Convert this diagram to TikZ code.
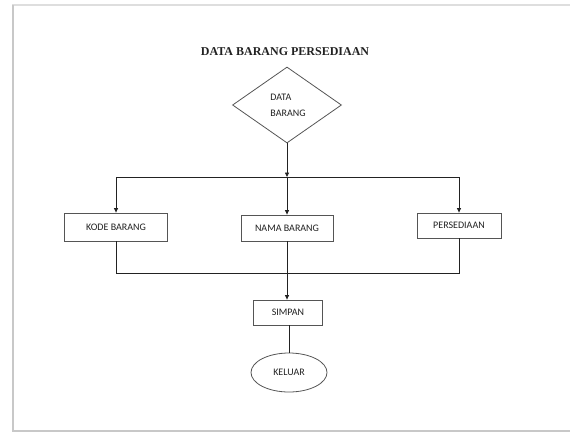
\documentclass[tikz,border=0pt]{standalone}
\usepackage{fontspec}
\setmainfont{Carlito}
\newfontfamily\titlefont{Liberation Serif}
\usetikzlibrary{arrows.meta,positioning,shapes.geometric}
\definecolor{Ink}{HTML}{222222}
\definecolor{Line}{HTML}{555555}
\definecolor{Frame}{HTML}{C8C8C8}
\tikzset{
  prosesbox/.style={
    rectangle, draw=Line, line width=0.8pt, fill=white,
    inner sep=0pt, align=center, text=Ink, font=\fontsize{10}{12}\selectfont
  },
  keputusan/.style={
    diamond, draw=Line, line width=0.8pt, inner sep=0pt,
    minimum width=109pt, minimum height=76pt, aspect=1.43
  },
  terminal/.style={
    ellipse, draw=Line, line width=0.8pt, inner sep=0pt,
    minimum width=76pt, minimum height=39pt, text=Ink, font=\fontsize{10}{12}\selectfont
  },
  alur/.style={-{Triangle[length=4.5pt,width=4pt]}, line width=0.8pt, draw=Ink},
  garis/.style={line width=0.8pt, draw=Ink}
}
\begin{document}
\begin{tikzpicture}[x=1pt,y=-1pt]
        \useasboundingbox (0,0) rectangle (570,432);
        % bingkai halaman
        \draw[Frame!60,line width=1.5pt] (12,5) -- (570,5);
        \draw[Frame,line width=2pt] (12.5,5) -- (12.5,430.5) -- (570,430.5);
        \node[font=\titlefont\bfseries\fontsize{12}{14}\selectfont,text=Ink] (judul) at (285,52) {DATA BARANG PERSEDIAAN};
        \node[keputusan] (data) at (287,105) {};
        \node[align=left,text=Ink,font=\fontsize{10}{12}\selectfont] (datatext) at (288,105.5) {DATA\\[4pt]BARANG};
        \node[prosesbox,minimum width=103pt,minimum height=28pt] (kode) at (116,227) {KODE BARANG};
        \node[prosesbox,minimum width=92pt,minimum height=26pt] (nama) at (287,228) {NAMA BARANG};
        \node[prosesbox,minimum width=84pt,minimum height=25pt] (stok) at (459,225.5) {PERSEDIAAN};
        \node[prosesbox,minimum width=69pt,minimum height=25pt] (simpan) at (288,312.5) {SIMPAN};
        \node[terminal] (keluar) at (289,372.5) {KELUAR};
        \coordinate (cabang) at (287,177);
        \coordinate (gabung) at (287,273);
        \draw[alur] (data.south) -- (cabang);
        \draw[garis] (cabang -| kode.north) -- (cabang -| stok.north);
        \draw[alur] (cabang -| kode.north) -- (kode.north);
        \draw[alur] (cabang) -- (nama.north);
        \draw[alur] (cabang -| stok.north) -- (stok.north);
        \draw[garis] (kode.south) -- (gabung -| kode.south) -- (gabung -| stok.south) -- (stok.south);
        \draw[alur] (nama.south) -- (nama.south |- simpan.north);
        \draw[garis] (keluar.north |- simpan.south) -- (keluar.north);
      \end{tikzpicture}
\end{document}
